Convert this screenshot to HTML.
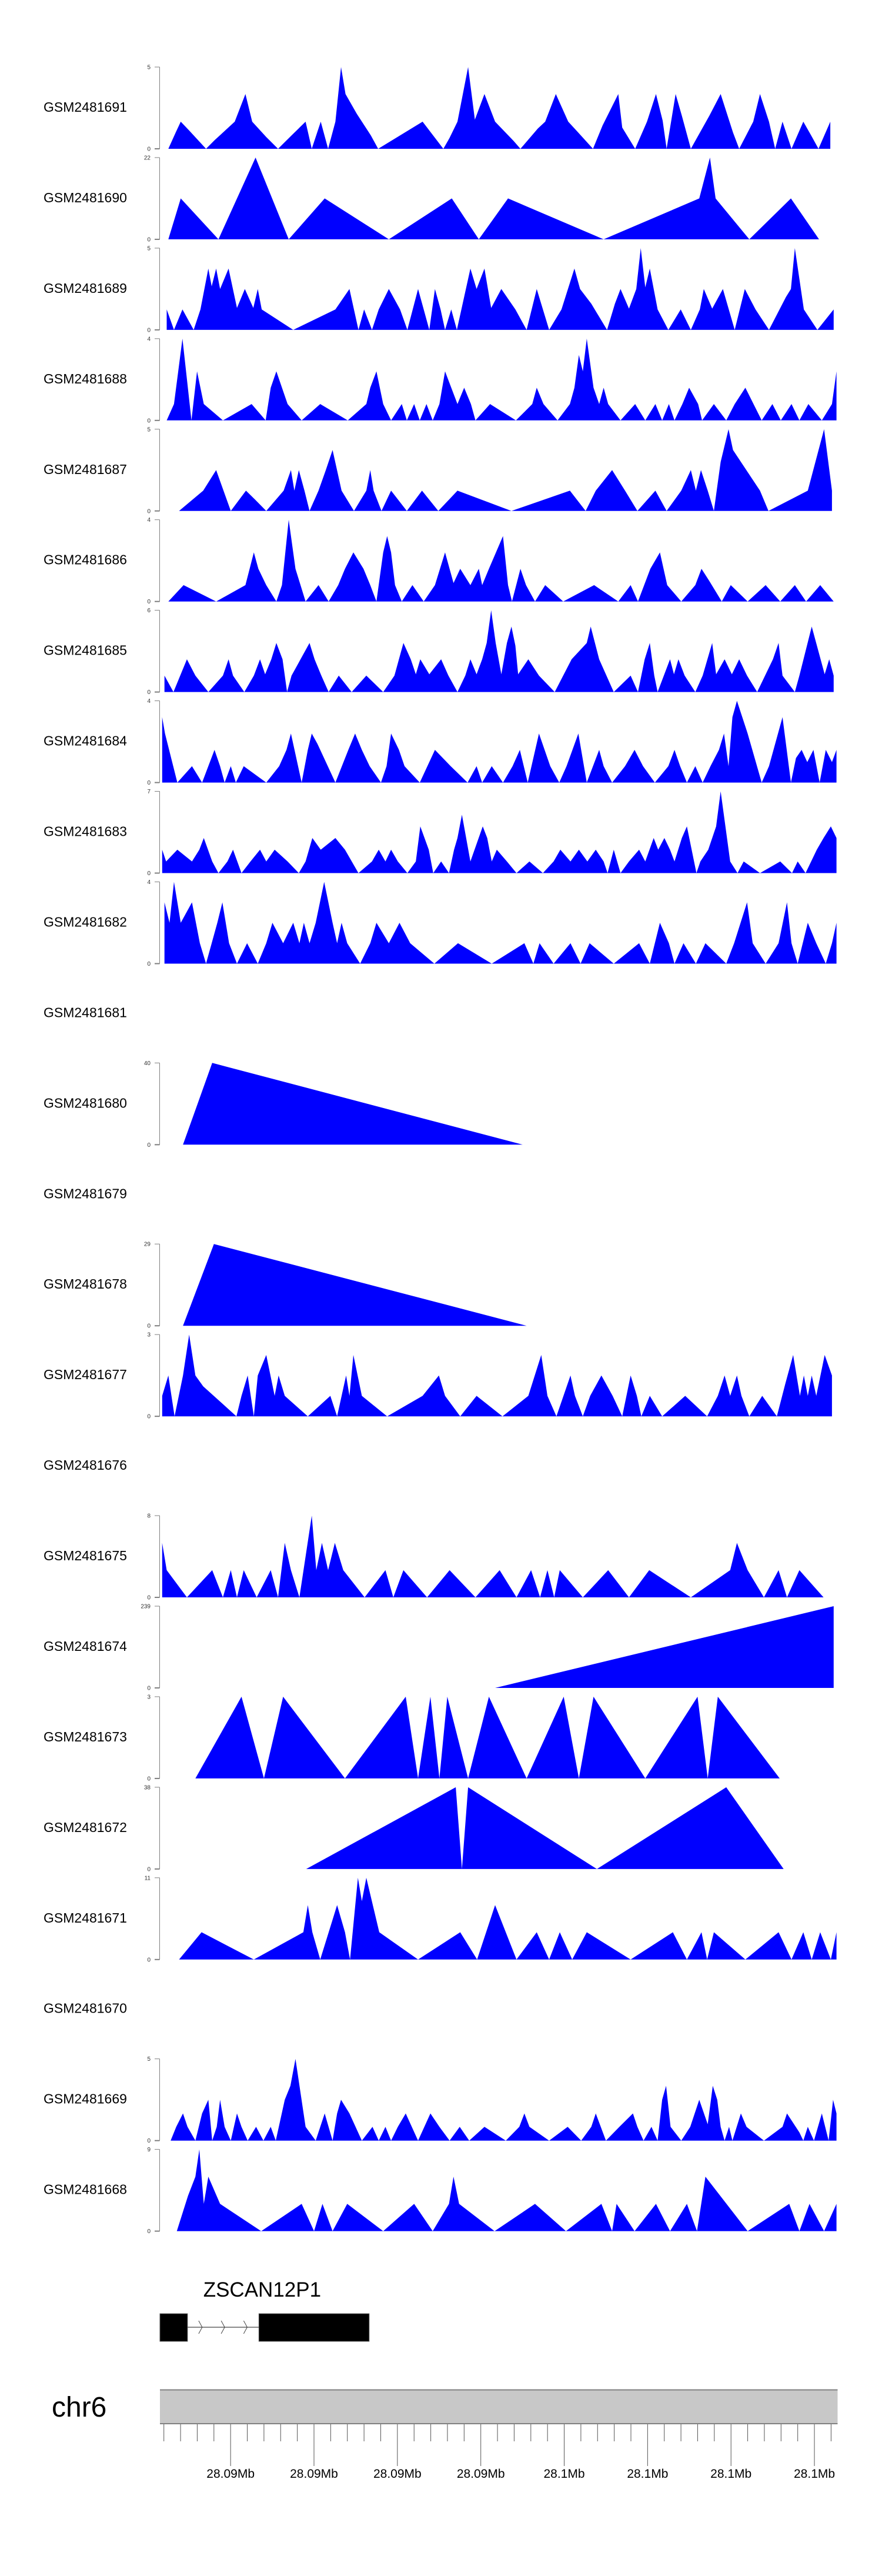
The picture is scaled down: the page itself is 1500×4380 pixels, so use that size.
<!DOCTYPE html>
<html><head><meta charset="utf-8">
<style>
html,body{margin:0;padding:0;background:#fff;}
svg{display:block;font-family:"Liberation Sans",Arial,sans-serif;}
</style></head>
<body>
<svg id="chart" width="1500" height="4380" viewBox="0 0 1500 4380" xmlns="http://www.w3.org/2000/svg"></svg>
<script>
// genomic position units (arbitrary), values = coverage
const trackNames = ["GSM2481691","GSM2481690","GSM2481689","GSM2481688","GSM2481687","GSM2481686","GSM2481685","GSM2481684","GSM2481683","GSM2481682","GSM2481681","GSM2481680","GSM2481679","GSM2481678","GSM2481677","GSM2481676","GSM2481675","GSM2481674","GSM2481673","GSM2481672","GSM2481671","GSM2481670","GSM2481669","GSM2481668"];
const trackMax = [5,22,5,4,5,4,6,4,7,4,null,40,null,29,3,null,8,239,3,38,11,null,5,9];
const s1691 = [[298,0],[311,1],[320,1.66],[335,1.12],[365,0],[380,0.52],[416,1.66],[435,3.35],[447,1.66],[472,0.72],[493,0],[517,0.82],[542,1.66],[553,0],[569,1.66],[582,0],[595,1.66],[605,5],[613,3.35],[633,2.14],[658,0.82],[671,0],[750,1.66],[787,0],[798,0.67],[812,1.66],[831,5],[843,1.78],[860,3.35],[879,1.66],[912,0.48],[924,0],[955,1.24],[968,1.66],[987,3.35],[1009,1.66],[1025,1.06],[1053,0],[1070,1.42],[1098,3.35],[1105,1.3],[1128,0],[1149,1.66],[1165,3.35],[1177,1.72],[1184,0],[1200,3.35],[1211,2.02],[1227,0],[1260,2.02],[1280,3.35],[1302,1],[1313,0],[1338,1.66],[1350,3.35],[1366,1.66],[1377,0],[1390,1.66],[1406,0],[1427,1.66],[1441,0.82],[1454,0],[1475,1.66]];
const s1690 = [[298,0],[320,11],[387,0],[453,22],[512,0],[576,11],[690,0],[802,11],[850,0],[902,11],[1072,0],[1242,11],[1261,22],[1271,11],[1331,0],[1405,11],[1455,0]];
const s1689 = [[295,1.25],[308,0],[323,1.25],[343,0],[355,1.25],[369,3.75],[375,2.66],[383,3.75],[390,2.5],[405,3.75],[420,1.34],[434,2.5],[449,1.34],[457,2.5],[464,1.25],[520,0],[595,1.25],[620,2.5],[636,0],[646,1.25],[660,0],[672,1.25],[690,2.5],[710,1.25],[723,0],[742,2.5],[752,1.25],[762,0],[772,2.5],[782,1.25],[790,0],[801,1.25],[811,0],[835,3.75],[846,2.5],[860,3.75],[872,1.34],[890,2.5],[915,1.25],[935,0],[953,2.5],[975,0],[997,1.25],[1020,3.75],[1030,2.5],[1050,1.6],[1078,0],[1092,1.6],[1102,2.5],[1117,1.3],[1130,2.5],[1138,5],[1146,2.6],[1154,3.75],[1168,1.25],[1187,0],[1209,1.25],[1227,0],[1243,1.25],[1250,2.5],[1265,1.3],[1284,2.5],[1305,0],[1323,2.5],[1342,1.25],[1366,0],[1396,2],[1405,2.5],[1412,5],[1428,1.25],[1452,0],[1481,1.25]];
const s1688 = [[295,0],[308,0.8],[323,4],[339,0],[349,2.4],[361,0.8],[395,0],[446,0.8],[471,0],[480,1.6],[490,2.4],[510,0.8],[535,0],[568,0.8],[617,0],[650,0.8],[657,1.6],[668,2.4],[680,0.8],[694,0],[713,0.8],[722,0],[735,0.8],[745,0],[757,0.8],[768,0],[780,0.8],[790,2.4],[812,0.8],[824,1.6],[836,0.8],[844,0],[870,0.8],[916,0],[945,0.8],[953,1.6],[965,0.8],[990,0],[1012,0.8],[1020,1.6],[1028,3.2],[1035,2.4],[1042,4],[1054,1.6],[1064,0.8],[1072,1.6],[1080,0.8],[1102,0],[1128,0.8],[1146,0],[1164,0.8],[1176,0],[1188,0.8],[1198,0],[1212,0.8],[1224,1.6],[1240,0.8],[1247,0],[1268,0.8],[1290,0],[1305,0.8],[1324,1.6],[1353,0],[1372,0.8],[1387,0],[1406,0.8],[1420,0],[1436,0.8],[1460,0],[1478,0.8],[1486,2.4]];
const s1687 = [[317,0],[360,1.24],[383,2.5],[409,0],[436,1.24],[452,0.7],[472,0],[503,1.24],[516,2.5],[522,1.24],[530,2.5],[540,1.24],[549,0],[565,1.24],[578,2.5],[590,3.73],[606,1.24],[628,0],[650,1.24],[657,2.5],[663,1.24],[677,0],[694,1.24],[722,0],[749,1.24],[778,0],[812,1.24],[908,0],[1012,1.24],[1040,0],[1058,1.24],[1087,2.5],[1110,1.24],[1132,0],[1164,1.24],[1184,0],[1210,1.24],[1227,2.5],[1236,1.24],[1245,2.5],[1257,1.24],[1268,0],[1280,3],[1294,5],[1302,3.73],[1350,1.24],[1365,0],[1435,1.24],[1464,5],[1478,1.24]];
const s1686 = [[298,0],[325,0.8],[383,0],[435,0.8],[450,2.4],[458,1.6],[472,0.8],[490,0],[500,0.8],[512,4],[524,1.6],[542,0],[565,0.8],[583,0],[600,0.8],[612,1.6],[627,2.4],[645,1.6],[657,0.8],[668,0],[680,2.4],[687,3.2],[694,2.4],[701,0.8],[713,0],[732,0.8],[752,0],[772,0.8],[790,2.4],[805,0.9],[817,1.6],[835,0.8],[850,1.6],[856,0.8],[868,1.6],[893,3.2],[902,0.8],[909,0],[924,1.6],[934,0.8],[950,0],[968,0.8],[1000,0],[1055,0.8],[1098,0],[1120,0.8],[1133,0],[1155,1.6],[1172,2.4],[1185,0.8],[1210,0],[1235,0.8],[1246,1.6],[1260,1],[1282,0],[1298,0.8],[1328,0],[1360,0.8],[1386,0],[1412,0.8],[1432,0],[1457,0.8],[1481,0]];
const s1685 = [[291,1.2],[307,0],[331,2.4],[346,1.2],[369,0],[395,1.2],[405,2.4],[413,1.2],[433,0],[450,1.2],[461,2.4],[470,1.3],[481,2.4],[490,3.6],[501,2.4],[509,0],[517,1.2],[533,2.4],[549,3.6],[558,2.4],[570,1.2],[583,0],[601,1.2],[624,0],[650,1.2],[680,0],[700,1.2],[716,3.6],[729,2.4],[738,1.3],[746,2.4],[762,1.3],[783,2.4],[796,1.2],[812,0],[826,1.2],[835,2.4],[846,1.3],[856,2.4],[864,3.6],[872,6],[880,3.6],[890,1.3],[900,3.6],[908,4.8],[915,3.4],[920,1.3],[938,2.4],[957,1.2],[985,0],[1000,1.2],[1015,2.4],[1042,3.6],[1049,4.8],[1064,2.4],[1090,0],[1120,1.2],[1133,0],[1145,2.4],[1154,3.6],[1162,1.2],[1168,0],[1190,2.4],[1197,1.3],[1205,2.4],[1216,1.2],[1235,0],[1248,1.2],[1265,3.6],[1272,1.3],[1287,2.4],[1300,1.3],[1313,2.4],[1327,1.2],[1345,0],[1373,2.4],[1383,3.6],[1390,1.2],[1412,0],[1420,1.2],[1442,4.8],[1465,1.3],[1473,2.4],[1481,1.2]];
const s1684 = [[287,3.2],[292,2.4],[314,0],[340,0.8],[358,0],[380,1.6],[390,0.8],[398,0],[409,0.8],[418,0],[432,0.8],[472,0],[495,0.8],[508,1.6],[516,2.4],[535,0],[546,1.6],[553,2.4],[563,1.9],[595,0],[618,1.6],[630,2.4],[642,1.6],[656,0.8],[676,0],[686,0.8],[694,2.4],[708,1.6],[718,0.8],[745,0],[772,1.6],[800,0.8],[830,0],[846,0.8],[856,0],[873,0.8],[893,0],[910,0.8],[923,1.6],[937,0],[957,2.4],[977,0.8],[993,0],[1006,0.8],[1027,2.4],[1042,0],[1064,1.6],[1072,0.8],[1087,0],[1110,0.8],[1127,1.6],[1142,0.8],[1163,0],[1187,0.8],[1198,1.6],[1208,0.8],[1220,0],[1235,0.8],[1248,0],[1262,0.8],[1277,1.6],[1286,2.4],[1294,0.8],[1301,3.2],[1309,4],[1328,2.4],[1353,0],[1366,0.8],[1390,3.2],[1405,0],[1414,1.2],[1424,1.6],[1434,1],[1445,1.6],[1456,0],[1467,1.6],[1478,1],[1486,1.6]];
const s1683 = [[287,2],[294,1],[314,2],[340,1],[353,2],[361,3],[376,1],[387,0],[403,1],[413,2],[428,0],[444,1],[461,2],[472,1],[487,2],[510,1],[530,0],[542,1],[554,3],[569,2],[595,3],[612,2],[636,0],[660,1],[672,2],[684,1],[694,2],[706,1],[723,0],[738,1],[746,4],[761,2],[769,0],[783,1],[797,0],[806,2],[812,3],[820,5],[835,1],[857,4],[865,3],[873,1],[882,2],[900,1],[917,0],[940,1],[964,0],[983,1],[995,2],[1013,1],[1028,2],[1043,1],[1058,2],[1072,1],[1079,0],[1090,2],[1102,0],[1117,1],[1135,2],[1146,1],[1161,3],[1169,2],[1180,3],[1190,2],[1198,1],[1211,3],[1220,4],[1237,0],[1244,1],[1258,2],[1272,4],[1280,7],[1297,1],[1310,0],[1321,1],[1350,0],[1386,1],[1407,0],[1417,1],[1431,0],[1441,1],[1451,2],[1463,3],[1476,4],[1486,3]];
const s1682 = [[291,3],[300,2],[308,4],[320,2],[340,3],[354,1],[365,0],[375,1],[385,2],[394,3],[406,1],[420,0],[438,1],[457,0],[472,1],[483,2],[502,1],[520,2],[531,1],[539,2],[549,1],[560,2],[575,4],[590,2],[598,1],[606,2],[616,1],[639,0],[657,1],[668,2],[690,1],[709,2],[728,1],[771,0],[813,1],[873,0],[931,1],[947,0],[958,1],[983,0],[1013,1],[1031,0],[1047,1],[1090,0],[1135,1],[1154,0],[1172,2],[1188,1],[1198,0],[1214,1],[1236,0],[1253,1],[1290,0],[1304,1],[1327,3],[1337,1],[1360,0],[1383,1],[1398,3],[1406,1],[1417,0],[1435,2],[1450,1],[1467,0],[1478,1],[1486,2]];
const s1681 = [];
const s1680 = [[324,0],[376,40],[928,0]];
const s1679 = [];
const s1678 = [[324,0],[379,29],[935,0]];
const s1677 = [[287,0.75],[298,1.5],[309,0],[324,1.5],[335,3],[346,1.5],[360,1.1],[419,0],[428,0.75],[439,1.5],[450,0],[457,1.5],[472,2.25],[487,0.75],[494,1.5],[505,0.75],[546,0],[586,0.75],[598,0],[614,1.5],[620,0.75],[627,2.25],[642,0.75],[687,0],[750,0.75],[779,1.5],[790,0.75],[817,0],[846,0.75],[892,0],[938,0.75],[961,2.25],[972,0.75],[988,0],[1013,1.5],[1021,0.75],[1035,0],[1048,0.75],[1068,1.5],[1088,0.75],[1105,0],[1120,1.5],[1131,0.75],[1139,0],[1154,0.75],[1176,0],[1217,0.75],[1256,0],[1275,0.75],[1287,1.5],[1297,0.75],[1309,1.5],[1317,0.75],[1331,0],[1354,0.75],[1380,0],[1395,1.2],[1409,2.25],[1421,0.75],[1428,1.5],[1435,0.75],[1442,1.5],[1450,0.75],[1465,2.25],[1478,1.5]];
const s1676 = [];
const s1675 = [[287,5.33],[295,2.66],[331,0],[376,2.66],[395,0],[409,2.66],[420,0],[432,2.66],[455,0],[480,2.66],[493,0],[505,5.33],[516,2.66],[531,0],[553,8],[561,2.66],[571,5.33],[582,2.66],[594,5.33],[609,2.66],[647,0],[684,2.66],[698,0],[716,2.66],[758,0],[798,2.66],[844,0],[887,2.66],[917,0],[943,2.66],[959,0],[972,2.66],[984,0],[994,2.66],[1035,0],[1080,2.66],[1117,0],[1153,2.66],[1227,0],[1297,2.66],[1309,5.33],[1328,2.66],[1357,0],[1383,2.66],[1398,0],[1420,2.66],[1463,0]];
const s1674 = [[879,0],[1481,239]];
const s1673 = [[346,0],[428,3],[468,0],[502,3],[612,0],[720,3],[742,0],[764,3],[780,0],[794,3],[831,0],[868,3],[935,0],[1001,3],[1028,0],[1054,3],[1146,0],[1239,3],[1257,0],[1275,3],[1385,0]];
const s1672 = [[543,0],[809,38],[820,0],[831,38],[1060,0],[1290,38],[1392,0]];
const s1671 = [[317,0],[357,3.67],[450,0],[538,3.67],[546,7.33],[554,3.67],[568,0],[598,7.33],[612,3.67],[621,0],[635,11],[642,7.85],[650,11],[673,3.67],[742,0],[817,3.67],[847,0],[879,7.33],[917,0],[953,3.67],[975,0],[994,3.67],[1016,0],[1042,3.67],[1120,0],[1195,3.67],[1220,0],[1246,3.67],[1256,0],[1268,3.67],[1324,0],[1383,3.67],[1406,0],[1427,3.67],[1442,0],[1457,3.67],[1476,0],[1486,3.67]];
const s1670 = [];
const s1669 = [[302,0],[312,0.84],[324,1.66],[332,0.84],[346,0],[358,1.66],[369,2.5],[376,0],[384,0.84],[390,2.5],[398,0.84],[409,0],[420,1.66],[428,0.84],[439,0],[454,0.84],[467,0],[480,0.84],[489,0],[505,2.5],[515,3.35],[524,5],[542,0.84],[560,0],[576,1.66],[590,0],[598,1.66],[605,2.5],[620,1.66],[642,0],[661,0.84],[672,0],[684,0.84],[694,0],[706,0.84],[720,1.66],[742,0],[764,1.66],[780,0.84],[798,0],[816,0.84],[833,0],[860,0.84],[898,0],[922,0.84],[931,1.66],[940,0.84],[975,0],[1008,0.84],[1032,0],[1050,0.84],[1058,1.66],[1076,0],[1100,0.84],[1124,1.66],[1132,0.84],[1143,0],[1157,0.84],[1168,0],[1176,2.5],[1183,3.35],[1191,0.84],[1210,0],[1226,0.84],[1242,2.5],[1257,1],[1266,3.35],[1274,2.5],[1280,0.84],[1287,0],[1295,0.84],[1301,0],[1316,1.66],[1326,0.84],[1357,0],[1390,0.84],[1398,1.66],[1420,0.5],[1427,0],[1435,0.84],[1446,0],[1460,1.66],[1472,0],[1480,2.5],[1486,1.66]];
const s1668 = [[313,0],[333,3.9],[346,6],[353,9],[361,3],[369,6],[390,3],[463,0],[535,3],[557,0],[572,3],[590,0],[616,3],[680,0],[735,3],[768,0],[797,3],[805,6],[815,3],[878,0],[950,3],[1005,0],[1068,3],[1087,0],[1095,3],[1127,0],[1165,3],[1190,0],[1220,3],[1238,0],[1253,6],[1328,0],[1402,3],[1420,0],[1438,3],[1464,0],[1486,3]];
const trackSeries = [s1691,s1690,s1689,s1688,s1687,s1686,s1685,s1684,s1683,s1682,s1681,s1680,s1679,s1678,s1677,s1676,s1675,s1674,s1673,s1672,s1671,s1670,s1669,s1668];
// gene model (genomic units)
const geneName = "ZSCAN12P1";
const geneExons = [[283,332],[459,655]];
const geneIntron = [332,459];
const intronArrows = [355,395,435];
// axis
const axisMinorStart = 290;
const axisMinorStep = 29.66;
const axisMinorCount = 41;
const axisMajorEvery = 5;
const axisMajorOffset = 4;
const axisLabels = ["28.09Mb","28.09Mb","28.09Mb","28.09Mb","28.1Mb","28.1Mb","28.1Mb","28.1Mb"];

const NS = "http://www.w3.org/2000/svg";
const svg = document.getElementById('chart');
const D0 = 283, D1 = 1488, R0 = 272, R1 = 1424.5;
function xScale(p){ return R0 + (p - D0) * (R1 - R0) / (D1 - D0); }
const TRACK_TOP = 114, TRACK_STEP = 153.94, TRACK_H = 139;
function mk(tag, attrs, parent){
  const e = document.createElementNS(NS, tag);
  for (const k in attrs) e.setAttribute(k, attrs[k]);
  (parent || svg).appendChild(e);
  return e;
}

trackNames.forEach((name, i) => {
  const top = TRACK_TOP + i * TRACK_STEP;
  const base = top + TRACK_H;
  const g = mk('g', {});
  
  
  const lbl = mk('text', {x: 74, y: top + 68 + 8, 'font-size': 23, fill: '#000'}, g);
  lbl.textContent = name;
  
  
  const max = trackMax[i];
  const pts = trackSeries[i];
  if (max === null || pts.length === 0) return;
  function yScale(v){ return base - v / max * TRACK_H; }
  const ax = mk('g', {}, g);
  
  
  mk('line', {x1: 271.5, y1: top, x2: 271.5, y2: base, stroke: '#7f7f7f', 'stroke-width': 1}, ax);
  [[0, base], [max, top]].forEach(([v, y]) => {
    mk('line', {x1: 263, y1: y, x2: 271.5, y2: y, stroke: '#7f7f7f', 'stroke-width': v === 0 ? 2 : 1}, ax);
    const t = mk('text', {x: 256, y: y + 3.5, 'font-size': 10, 'text-anchor': 'end', fill: '#333'}, ax);
    t.textContent = String(v);
    
    
  });
  let d = 'M' + xScale(pts[0][0]).toFixed(1) + ',' + base.toFixed(1);
  pts.forEach(p => { d += ' L' + xScale(p[0]).toFixed(1) + ',' + yScale(p[1]).toFixed(1); });
  d += ' L' + xScale(pts[pts.length - 1][0]).toFixed(1) + ',' + base.toFixed(1) + ' Z';
  const area = mk('path', {d: d, fill: '#0000ff', stroke: 'none'}, g);
  
  
});

// gene track
const gg = mk('g', {});


const gl = mk('text', {x: (xScale(geneExons[0][0]) + xScale(geneExons[1][1])) / 2 - 4, y: 3905, 'font-size': 35, 'text-anchor': 'middle', fill: '#000'}, gg);
gl.textContent = geneName;


mk('line', {x1: xScale(geneIntron[0]), y1: 3957, x2: xScale(geneIntron[1]), y2: 3957, stroke: '#444', 'stroke-width': 1.2}, gg);
intronArrows.forEach(a => {
  const x = xScale(a);
  const ar = mk('polyline', {points: (x - 3) + ',3946 ' + (x + 3) + ',3957 ' + (x - 3) + ',3968', fill: 'none', stroke: '#444', 'stroke-width': 1}, gg);
  
  
});
geneExons.forEach(e => {
  const r = mk('rect', {x: xScale(e[0]), y: 3934, width: xScale(e[1]) - xScale(e[0]), height: 47, fill: '#000', stroke: '#555', 'stroke-width': 1}, gg);
  
  
});

// genome axis
const ag = mk('g', {});


const chr = mk('text', {x: 88, y: 4109, 'font-size': 48, fill: '#000'}, ag);
chr.textContent = 'chr6';


const bar = mk('rect', {x: xScale(D0), y: 4063, width: xScale(D1) - xScale(D0), height: 58, fill: '#c8c8c8'}, ag);


mk('line', {x1: xScale(D0), y1: 4063.5, x2: xScale(D1), y2: 4063.5, stroke: '#808080', 'stroke-width': 2}, ag);
mk('line', {x1: xScale(D0), y1: 4121, x2: xScale(D1), y2: 4121, stroke: '#808080', 'stroke-width': 2}, ag);
for (let k = 0; k < axisMinorCount; k++) {
  const x = xScale(axisMinorStart + k * axisMinorStep);
  const major = (k - axisMajorOffset) % axisMajorEvery === 0 && k >= axisMajorOffset;
  const tk = mk('line', {x1: x, y1: 4122, x2: x, y2: major ? 4193 : 4151, stroke: '#555', 'stroke-width': 1}, ag);
  
  
  if (major) {
    const li = (k - axisMajorOffset) / axisMajorEvery;
    if (li < axisLabels.length) {
      const t = mk('text', {x: x, y: 4213, 'font-size': 21, 'text-anchor': 'middle', fill: '#000'}, ag);
      t.textContent = axisLabels[li];
      
      
    }
  }
}
</script>
</body></html>
